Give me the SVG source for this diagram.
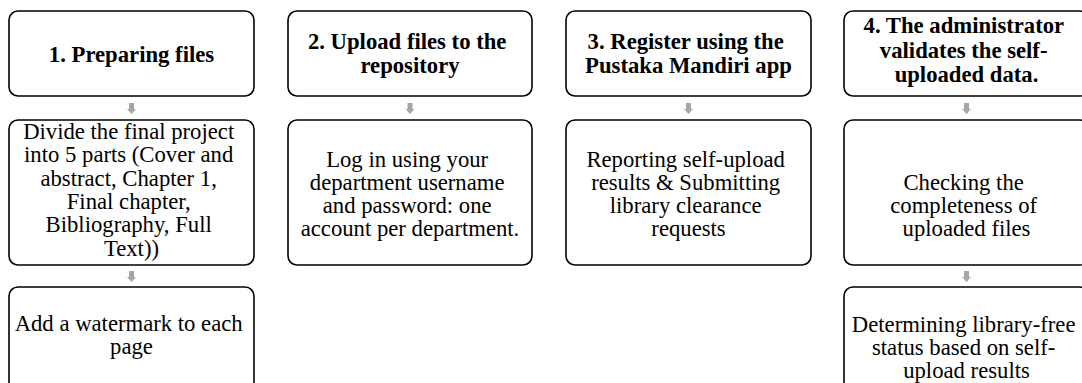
<svg xmlns="http://www.w3.org/2000/svg" width="1082" height="383" viewBox="0 0 1082 383">
  <style>
    .box { fill: #ffffff; stroke: #000000; stroke-width: 1.6; }
    .head { font-family: "Liberation Serif", "Times New Roman", serif; font-size: 22.7px; font-weight: bold; fill: #000000; text-anchor: middle; }
    .body { font-family: "Liberation Serif", "Times New Roman", serif; font-size: 22.7px; fill: #000000; text-anchor: middle; }
    .arrow { fill: #a6a6a6; }
  </style>
  <defs>
    <!-- small grey down arrow, tip at (0,11) -->
    <polygon id="down" points="-2.5,0 2.5,0 2.5,6 4.5,6 0,11 -4.5,6 -2.5,6"/>
  </defs>
  <rect width="1082" height="383" fill="#ffffff"/>

  <!-- column 1 -->
  <g id="step1">
    <rect class="box" x="9" y="11" width="245" height="85" rx="9"/>
    <text class="head" x="131.5" y="62">1. Preparing files</text>
  </g>
  <g id="step1-split">
    <rect class="box" x="9" y="120" width="245" height="145" rx="9"/>
    <text class="body">
      <tspan x="131.5" y="139">Divide the final project</tspan>
      <tspan x="131.5" y="162.3">into 5 parts (Cover and</tspan>
      <tspan x="131.5" y="185.6">abstract, Chapter 1,</tspan>
      <tspan x="131.5" y="208.9">Final chapter,</tspan>
      <tspan x="131.5" y="232.2">Bibliography, Full</tspan>
      <tspan x="131.5" y="255.5">Text))</tspan>
    </text>
  </g>
  <g id="step1-watermark">
    <rect class="box" x="9" y="287" width="245" height="145" rx="9"/>
    <text class="body">
      <tspan x="131.5" y="331">Add a watermark to each</tspan>
      <tspan x="131.5" y="354.3">page</tspan>
    </text>
  </g>

  <!-- column 2 -->
  <g id="step2">
    <rect class="box" x="288" y="11" width="244" height="85" rx="9"/>
    <text class="head">
      <tspan x="410" y="49">2. Upload files to the</tspan>
      <tspan x="410" y="72.5">repository</tspan>
    </text>
  </g>
  <g id="step2-login">
    <rect class="box" x="288" y="120" width="244" height="145" rx="9"/>
    <text class="body">
      <tspan x="410" y="166.5">Log in using your</tspan>
      <tspan x="410" y="189.8">department username</tspan>
      <tspan x="410" y="213.1">and password: one</tspan>
      <tspan x="410" y="236.4">account per department.</tspan>
    </text>
  </g>

  <!-- column 3 -->
  <g id="step3">
    <rect class="box" x="566" y="11" width="245" height="85" rx="9"/>
    <text class="head">
      <tspan x="688.5" y="49">3. Register using the</tspan>
      <tspan x="688.5" y="72.5">Pustaka Mandiri app</tspan>
    </text>
  </g>
  <g id="step3-report">
    <rect class="box" x="566" y="120" width="245" height="145" rx="9"/>
    <text class="body">
      <tspan x="688.5" y="166.5">Reporting self-upload</tspan>
      <tspan x="688.5" y="189.8">results &amp; Submitting</tspan>
      <tspan x="688.5" y="213.1">library clearance</tspan>
      <tspan x="688.5" y="236.4">requests</tspan>
    </text>
  </g>

  <!-- column 4 -->
  <g id="step4">
    <rect class="box" x="844" y="11" width="245" height="85" rx="9"/>
    <text class="head">
      <tspan x="966.5" y="33">4. The administrator</tspan>
      <tspan x="966.5" y="57.5">validates the self-</tspan>
      <tspan x="966.5" y="82">uploaded data.</tspan>
    </text>
  </g>
  <g id="step4-check">
    <rect class="box" x="844" y="120" width="245" height="145" rx="9"/>
    <text class="body">
      <tspan x="966.5" y="189.8">Checking the</tspan>
      <tspan x="966.5" y="213.1">completeness of</tspan>
      <tspan x="966.5" y="236.4">uploaded files</tspan>
    </text>
  </g>
  <g id="step4-status">
    <rect class="box" x="844" y="287" width="245" height="145" rx="9"/>
    <text class="body">
      <tspan x="966.5" y="331.5">Determining library-free</tspan>
      <tspan x="966.5" y="354.5">status based on self-</tspan>
      <tspan x="966.5" y="377.5">upload results</tspan>
    </text>
  </g>

  <!-- connectors -->
  <g id="connectors" class="arrow">
    <use href="#down" x="131.5" y="103"/>
    <use href="#down" x="131.5" y="271"/>
    <use href="#down" x="410" y="103"/>
    <use href="#down" x="688.5" y="103"/>
    <use href="#down" x="966.5" y="103"/>
    <use href="#down" x="966.5" y="271"/>
  </g>
</svg>
